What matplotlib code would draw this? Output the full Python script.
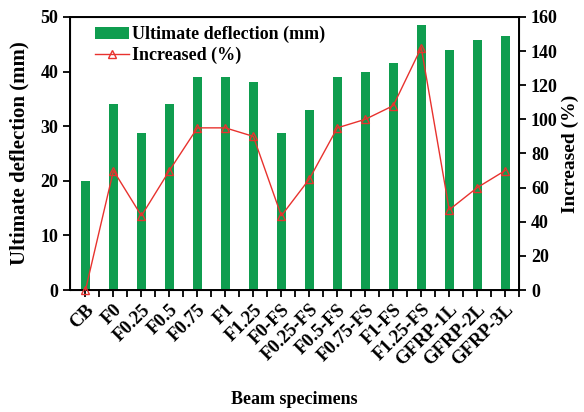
import matplotlib
matplotlib.use("Agg")
import matplotlib.pyplot as plt
import numpy as np

plt.rcParams['font.family'] = ['Liberation Serif', 'DejaVu Serif']
plt.rcParams['font.weight'] = 'bold'

specimens = ["CB", "F0", "F0.25", "F0.5", "F0.75", "F1", "F1.25", "F0-FS",
             "F0.25-FS", "F0.5-FS", "F0.75-FS", "F1-FS", "F1.25-FS",
             "GFRP-1L", "GFRP-2L", "GFRP-3L"]
deflection = [20, 34, 28.7, 34, 39, 39, 38, 28.7, 33, 39, 40, 41.6, 48.5, 44, 45.8, 46.5]
increased = [0, 70, 43.5, 70, 95, 95, 90, 43.5, 65, 95, 100, 108, 142, 47, 60, 70]

x = np.arange(len(specimens))

fig = plt.figure(figsize=(5.84, 4.12), dpi=100)
ax = fig.add_axes([0.12, 0.296, 0.769, 0.663])
bars = ax.bar(x, deflection, width=0.33, color='#0f9d4f', zorder=2)
ax.set_ylim(0, 50)
ax.set_xlim(-0.55, 15.5)
ax.set_yticks(range(0, 51, 10))
ax.set_xticks(x)
ax.set_xticks(x + 0.5, minor=True)
ax.set_xticklabels(specimens, rotation=45, ha='right', rotation_mode='anchor',
                   fontsize=13.5, fontweight='bold')
ax.tick_params(axis='both', which='both', direction='out', length=5, width=1.3, labelsize=13)
ax.tick_params(axis='x', which='major', labelsize=13.5, pad=3)
ax.set_ylabel('Ultimate deflection (mm)', fontsize=15, fontweight='bold', labelpad=8)
ax.set_xlabel('Beam specimens', fontsize=13, fontweight='bold', labelpad=16)
for s in ax.spines.values():
    s.set_linewidth(1.4)

ax2 = ax.twinx()
line, = ax2.plot(x, increased, color='#e8322e', lw=1, marker='^', ms=6,
                 mfc='none', mec='#e8322e', zorder=3, clip_on=False)
ax2.set_ylim(0, 160)
ax2.set_yticks(range(0, 161, 20))
ax2.tick_params(axis='y', direction='out', length=5, width=1.3, labelsize=13)
ax2.set_ylabel('Increased (%)', fontsize=14, fontweight='bold', labelpad=3)

ax.legend([bars, line], ['Ultimate deflection (mm)', 'Increased (%)'], loc='upper left',
          frameon=False, prop={'weight': 'bold', 'size': 13}, handlelength=1.9,
          borderaxespad=0.1, handletextpad=0.15, labelspacing=0.2,
          bbox_to_anchor=(0.035, 1.0))

fig.savefig('out.png', dpi=100)
